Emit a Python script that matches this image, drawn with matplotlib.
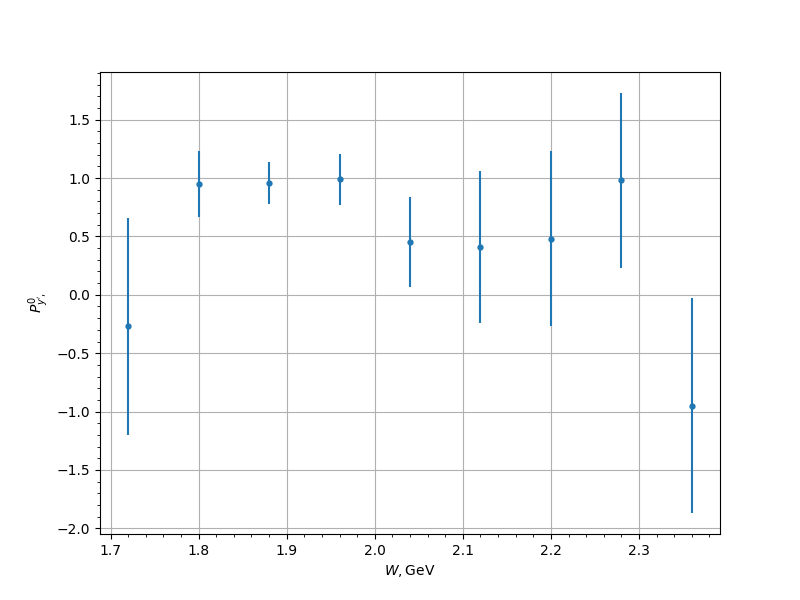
import numpy as np
import matplotlib
matplotlib.use("Agg")
import matplotlib.pyplot as plt
from matplotlib.ticker import AutoMinorLocator

W = np.array([1.72, 1.80, 1.88, 1.96, 2.04, 2.12, 2.20, 2.28, 2.36])
P = np.array([-0.27, 0.95, 0.96, 0.99, 0.455, 0.41, 0.48, 0.98, -0.95])
dP = np.array([0.93, 0.28, 0.18, 0.22, 0.385, 0.65, 0.75, 0.75, 0.92])

fig, ax = plt.subplots(figsize=(8, 6), dpi=100)
ax.errorbar(W, P, yerr=dP, fmt='o', ms=3.5)
ax.set_xlabel(r"$W, \mathrm{GeV}$")
ax.set_ylabel(r"$P^0_{y',}$")
ax.xaxis.set_minor_locator(AutoMinorLocator(5))
ax.yaxis.set_minor_locator(AutoMinorLocator(5))
ax.grid(True)
fig.savefig("out.png")
